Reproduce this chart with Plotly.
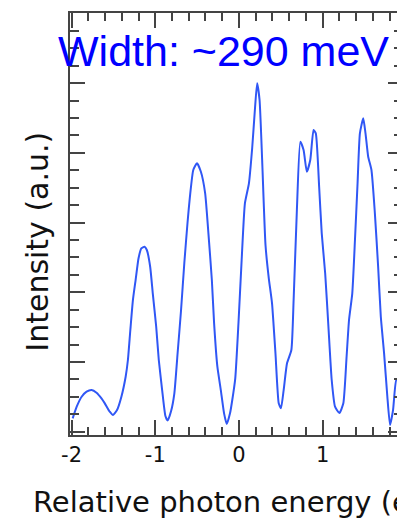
import plotly.graph_objects as go

# Relative photon energy (eV)
energy = [-1.987, -1.939, -1.880, -1.821, -1.761, -1.702, -1.643, -1.603, -1.544, -1.505,
          -1.457, -1.405, -1.354, -1.327, -1.298, -1.267, -1.235, -1.200, -1.167, -1.128,
          -1.101, -1.061, -1.030, -0.989, -0.958, -0.918, -0.879, -0.852, -0.811, -0.772,
          -0.733, -0.692, -0.653, -0.614, -0.586, -0.546, -0.502, -0.455, -0.404, -0.365,
          -0.324, -0.297, -0.258, -0.217, -0.178, -0.146, -0.107, -0.080, -0.044, -0.006,
          0.032, 0.071, 0.119, 0.158, 0.190, 0.217, 0.246, 0.277, 0.317, 0.356,
          0.395, 0.436, 0.475, 0.502, 0.534, 0.574, 0.626, 0.653, 0.692, 0.733,
          0.772, 0.811, 0.852, 0.891, 0.918, 0.958, 0.989, 1.030, 1.069, 1.108,
          1.148, 1.200, 1.247, 1.286, 1.315, 1.354, 1.386, 1.417, 1.445, 1.485,
          1.512, 1.544, 1.583, 1.624, 1.663, 1.695, 1.734, 1.773, 1.805, 1.841,
          1.880, 1.909, 1.939, 1.960, 1.995]

# Intensity (a.u.)
intensity = [0.192, 0.359, 0.502, 0.574, 0.598, 0.560, 0.479, 0.407, 0.287, 0.240,
             0.311, 0.502, 0.789, 1.029, 1.459, 1.890, 2.176, 2.488, 2.631, 2.654,
             2.607, 2.367, 1.986, 1.506, 1.029, 0.598, 0.225, 0.161, 0.296, 0.551,
             1.129, 1.746, 2.420, 3.009, 3.372, 3.755, 3.851, 3.730, 3.420, 2.846,
             2.176, 1.555, 0.933, 0.598, 0.264, 0.110, 0.264, 0.455, 0.770, 1.560,
             2.463, 3.277, 3.564, 4.070, 4.615, 4.999, 4.759, 3.898, 2.679, 2.205,
             1.842, 1.125, 0.407, 0.336, 0.598, 0.981, 1.172, 1.890, 3.181, 4.161,
             4.042, 3.730, 3.898, 4.329, 4.281, 3.515, 2.846, 2.273, 1.506, 0.742,
             0.359, 0.268, 0.407, 1.076, 1.603, 1.986, 2.750, 3.564, 4.281, 4.496,
             4.281, 3.945, 3.755, 3.133, 2.367, 1.650, 1.125, 0.502, 0.096, 0.311,
             0.742, 0.742, 0.455, 0.598, 0.670]

x_ticks = [-2, -1, 0, 1]
x_tick_labels = ["-2", "-1", "0", "1"]

# the page body adds an 8 px margin, so the figure is 8 px smaller on each used side
OFF = 8
W, H = 405 - OFF, 519 - OFF
ML, MR, MT, MB = 70 - OFF, 0, 13 - OFF, 84
PW, PH = W - ML - MR, H - MT - MB


def px(xpix):
    return (xpix - OFF - ML) / PW


def py(ypix):
    return (H - MB - (ypix - OFF)) / PH


fig = go.Figure()
fig.add_trace(go.Scatter(
    x=energy, y=intensity, mode="lines",
    line=dict(color="#3057f5", width=2, shape="spline", smoothing=0.5),
    hoverinfo="skip", showlegend=False,
))

axis_common = dict(
    showline=True, linecolor="#444444", linewidth=2, mirror="allticks",
    ticks="inside", tickcolor="#444444", tickwidth=1.5, ticklen=15,
    showgrid=False, zeroline=False,
)

fig.update_xaxes(
    range=[-2.019, 1.960], tickmode="array", tickvals=x_ticks, ticktext=x_tick_labels,
    tickfont=dict(family="DejaVu Sans", size=21, color="#111111"),
    minor=dict(dtick=0.2, tick0=0, ticks="inside", ticklen=8, tickcolor="#444444", tickwidth=1.5, showgrid=False),
    **axis_common,
)
fig.update_yaxes(
    range=[-0.047, 6.007], dtick=1, tick0=0, showticklabels=False,
    minor=dict(dtick=0.25, tick0=0, ticks="inside", ticklen=9, tickcolor="#444444", tickwidth=1.5, showgrid=False),
    **axis_common,
)

annotations = [
    dict(text="Width: ~290 meV", x=px(224), y=py(50.5), xref="paper", yref="paper",
         xanchor="center", yanchor="middle", showarrow=False,
         font=dict(family="Liberation Sans, Arial", size=43, color="#0000ff")),
    dict(text="Relative photon energy (eV)", x=px(30.7), y=py(502), xref="paper", yref="paper",
         xanchor="left", yanchor="middle", showarrow=False,
         font=dict(family="DejaVu Sans", size=29, color="#111111")),
    dict(text="Intensity (a.u.)", x=px(36.5), y=py(242), xref="paper", yref="paper",
         xanchor="center", yanchor="middle", showarrow=False, textangle=-90,
         font=dict(family="DejaVu Sans", size=30, color="#111111")),
    dict(text="2", x=px(407), y=py(457.5), xref="paper", yref="paper",
         xanchor="center", yanchor="middle", showarrow=False,
         font=dict(family="DejaVu Sans", size=21, color="#111111")),
]

fig.update_layout(
    width=W, height=H, margin=dict(l=ML, r=MR, t=MT, b=MB, pad=0),
    paper_bgcolor="white", plot_bgcolor="white",
    annotations=annotations,
)

fig.write_html("out.html")
